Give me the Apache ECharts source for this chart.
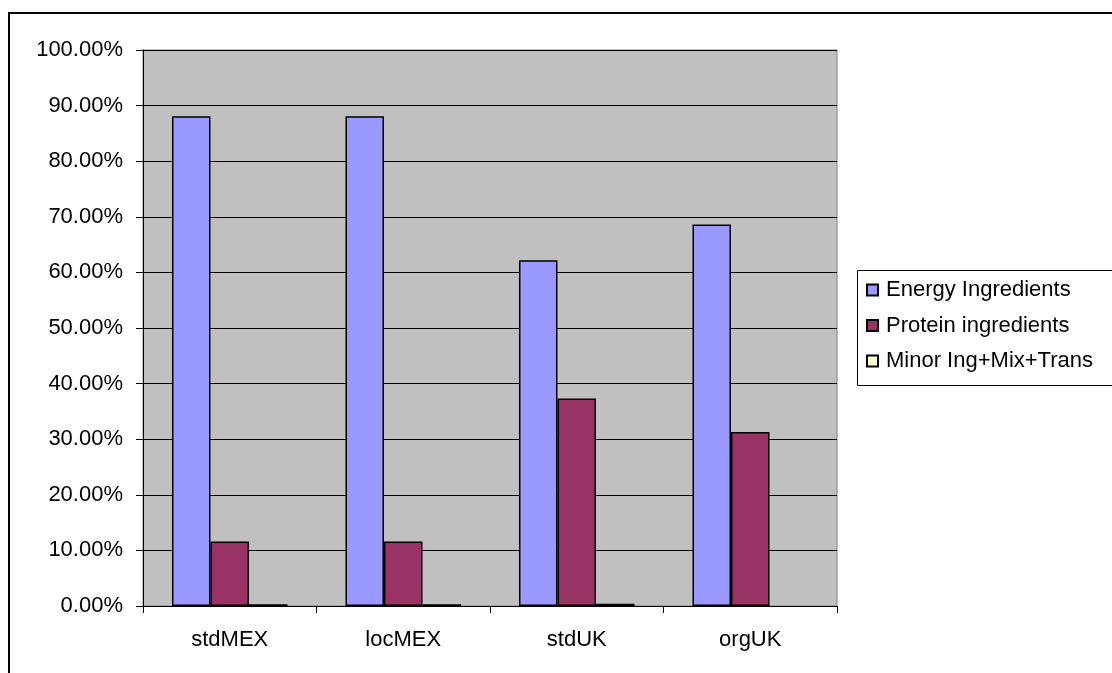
<!DOCTYPE html>
<html>
<head>
<meta charset="utf-8">
<script src="https://cdn.jsdelivr.net/npm/echarts@6/dist/echarts.min.js"></script>
<style>
  html, body { margin: 0; padding: 0; background: #ffffff; }
  #chart { width: 1112px; height: 673px; }
</style>
</head>
<body>
<div id="chart"></div>
<script>
// Feed cost shares per diet scenario (percent of total)
const categories = ['stdMEX', 'locMEX', 'stdUK', 'orgUK'];
const energyIngredients = [88.1, 88.1, 62.2, 68.6];
const proteinIngredients = [11.6, 11.6, 37.3, 31.3];
const minorMixTrans = [0.3, 0.3, 0.4, null];
const seriesNames = ['Energy Ingredients', 'Protein ingredients', 'Minor Ing+Mix+Trans'];
const seriesColors = ['#9999FF', '#993366', '#FFFFCC'];

const FONT = "'Liberation Sans', Arial, sans-serif";
const textBase = { fontFamily: FONT, fontSize: 22, color: '#000000' };

const chart = echarts.init(document.getElementById('chart'), null, { renderer: 'canvas' });

const seriesData = [energyIngredients, proteinIngredients, minorMixTrans];

chart.setOption({
  animation: false,
  backgroundColor: '#ffffff',
  grid: {
    left: 143, top: 50, right: 275, bottom: 67,
    show: true,
    backgroundColor: '#C0C0C0',
    borderColor: '#808080',
    borderWidth: 1
  },
  legend: {
    left: 866, top: 278,
    orient: 'vertical',
    itemWidth: 11, itemHeight: 11,
    itemGap: 11.5,
    icon: 'rect',
    padding: 0,
    textStyle: Object.assign({}, textBase, { lineHeight: 24, padding: [0, 0, 0, 3] }),
    data: seriesNames
  },
  xAxis: {
    type: 'category',
    data: categories,
    axisLine: { show: true, lineStyle: { color: '#000000', width: 1 } },
    axisTick: { show: true, length: 7, alignWithLabel: false, lineStyle: { color: '#000000' } },
    axisLabel: Object.assign({}, textBase, { margin: 23 }),
    splitLine: { show: false }
  },
  yAxis: {
    type: 'value',
    min: 0, max: 100, interval: 10,
    axisLine: { show: true, lineStyle: { color: '#000000', width: 1 } },
    axisTick: { show: true, length: 7, lineStyle: { color: '#000000' } },
    axisLabel: Object.assign({}, textBase, {
      margin: 20,
      formatter: v => v.toFixed(2) + '%'
    }),
    splitLine: { show: true, lineStyle: { color: '#000000', width: 1 } }
  },
  series: seriesNames.map((name, i) => ({
    name: name,
    type: 'bar',
    data: seriesData[i],
    barGap: '0%',
    barCategoryGap: '33.4%',
    itemStyle: { color: seriesColors[i], borderColor: '#000000', borderWidth: 1.5 }
  })),
  graphic: [
    {
      type: 'rect',
      shape: { x: 9, y: 13, width: 1200, height: 700 },
      style: { fill: 'none', stroke: '#000000', lineWidth: 2 },
      silent: true
    },
    {
      type: 'rect',
      shape: { x: 857.5, y: 270.5, width: 400, height: 115 },
      style: { fill: 'none', stroke: '#000000', lineWidth: 1 },
      silent: true
    }
  ]
});
</script>
</body>
</html>
